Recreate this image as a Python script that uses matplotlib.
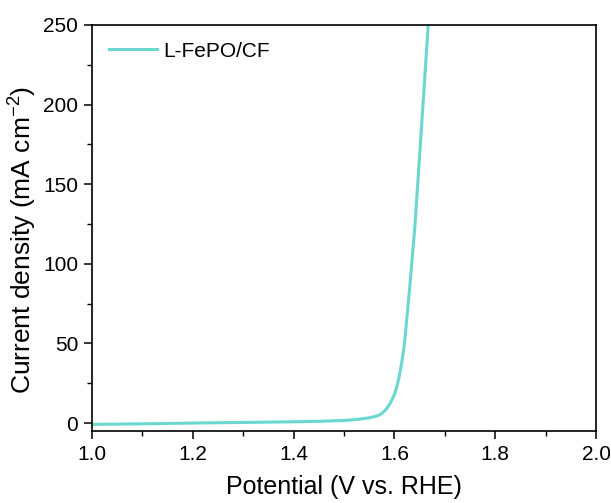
import numpy as np
import matplotlib
matplotlib.use('Agg')
import matplotlib.pyplot as plt
from matplotlib.ticker import MultipleLocator

plt.rcParams['font.family'] = ['Liberation Sans', 'DejaVu Sans']
plt.rcParams['mathtext.fontset'] = 'custom'
plt.rcParams['mathtext.rm'] = 'Liberation Sans'
plt.rcParams['mathtext.it'] = 'Liberation Sans'
plt.rcParams['axes.unicode_minus'] = False

# LSV 曲线
potential = [1.0, 1.1, 1.2, 1.3, 1.4, 1.45, 1.5, 1.53, 1.55, 1.56, 1.57, 1.575,
             1.58, 1.585, 1.59, 1.595, 1.6, 1.605, 1.61, 1.615, 1.62, 1.63,
             1.64, 1.65, 1.66, 1.667]
current = [-0.8, -0.5, 0.0, 0.4, 0.8, 1.1, 1.6, 2.4, 3.3, 4.0, 5.0, 6.1,
           7.5, 9.3, 11.5, 14.5, 18.0, 23.0, 30.0, 39.0, 50.0, 84.0,
           121.0, 168.0, 216.0, 250.0]
series_name = 'L-FePO/CF'
line_color = '#6ad8cf'

fig = plt.figure(figsize=(6.11, 5.03), dpi=100)
ax = fig.add_axes([0.1506, 0.1431, 0.8249, 0.8072])

ax.plot(potential, current, color=line_color, lw=2.2, label=series_name,
        solid_joinstyle='round')

ax.set_xlim(1.0, 2.0)
ax.set_ylim(-5, 250)
ax.xaxis.set_major_locator(MultipleLocator(0.2))
ax.xaxis.set_minor_locator(MultipleLocator(0.1))
ax.yaxis.set_major_locator(MultipleLocator(50))
ax.yaxis.set_minor_locator(MultipleLocator(25))
ax.xaxis.set_major_formatter(plt.FuncFormatter(lambda v, p: f'{v:.1f}'))

ax.tick_params(which='major', direction='out', length=6, width=1.1,
               labelsize=15, pad=4)
ax.tick_params(which='minor', direction='out', length=3.5, width=1.0)
for s in ax.spines.values():
    s.set_linewidth(1.2)

ax.set_xlabel('Potential (V vs. RHE)', fontsize=18, labelpad=8)
ax.set_ylabel('Current density (mA cm$^{\\mathregular{-2}}$)', fontsize=19)
ax.yaxis.set_label_coords(-0.106, 0.47)

ax.legend(loc='upper left', frameon=False, fontsize=15, handlelength=2.3,
          handletextpad=0.3, borderaxespad=0.4)

fig.savefig('out.png', dpi=100)
